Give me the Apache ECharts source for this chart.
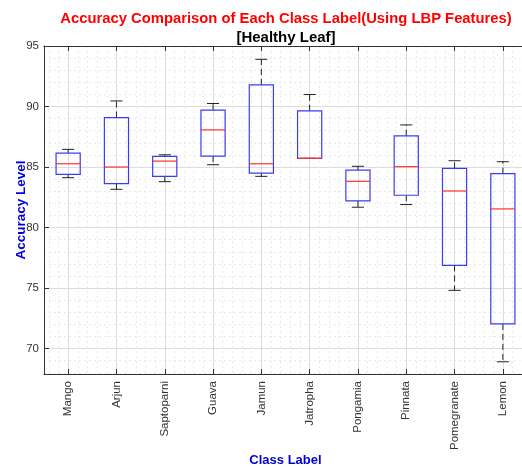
<!DOCTYPE html>
<html><head><meta charset="utf-8">
<script src="https://cdn.jsdelivr.net/npm/echarts@6/dist/echarts.min.js"></script>
<style>html,body{margin:0;padding:0;background:#fff}#c{width:522px;height:468px}</style>
</head><body><div id="c"></div>
<script>
const categories = ['Mango','Arjun','Saptoparni','Guava','Jamun','Jatropha','Pongamia','Pinnata','Pomegranate','Lemon'];
const lowerWhisker = [84.12, 83.16, 83.79, 85.19, 84.23, 85.72, 81.68, 81.90, 74.81, 68.91];
const q1Values     = [84.40, 83.63, 84.23, 85.90, 84.50, 85.72, 82.20, 82.67, 76.87, 72.04];
const medianValues = [85.27, 85.00, 85.49, 88.07, 85.27, 85.72, 83.82, 85.03, 83.02, 81.54];
const q3Values     = [86.15, 89.09, 85.88, 89.70, 91.78, 89.64, 84.75, 87.58, 84.89, 84.45];
const upperWhisker = [86.46, 90.46, 86.01, 90.25, 93.90, 90.99, 85.06, 88.48, 85.52, 85.44];
const yTicks = [70, 75, 80, 85, 90, 95];

const FONT = 'Liberation Sans, Arial, sans-serif';
const data = categories.map((c, i) => [i + 1, lowerWhisker[i], q1Values[i], medianValues[i], q3Values[i], upperWhisker[i]]);

function renderItem(params, api) {
  const x = api.value(0);
  const pLo = api.coord([x, api.value(1)]);
  const pQ1 = api.coord([x, api.value(2)]);
  const pMd = api.coord([x, api.value(3)]);
  const pQ3 = api.coord([x, api.value(4)]);
  const pHi = api.coord([x, api.value(5)]);
  const unit = api.size([1, 0])[0];
  const bw = unit * 0.5, cw = unit * 0.25;
  const cx = pMd[0];
  const dash = { stroke: '#222', lineWidth: 1, lineDash: [6, 4] };
  const solid = { stroke: '#222', lineWidth: 1 };
  return {
    type: 'group',
    children: [
      { type: 'line', shape: { x1: cx, y1: pQ3[1], x2: cx, y2: pHi[1] }, style: dash },
      { type: 'line', shape: { x1: cx, y1: pQ1[1], x2: cx, y2: pLo[1] }, style: dash },
      { type: 'line', shape: { x1: cx - cw / 2, y1: pHi[1], x2: cx + cw / 2, y2: pHi[1] }, style: solid },
      { type: 'line', shape: { x1: cx - cw / 2, y1: pLo[1], x2: cx + cw / 2, y2: pLo[1] }, style: solid },
      { type: 'rect', shape: { x: cx - bw / 2, y: pQ3[1], width: bw, height: pQ1[1] - pQ3[1] },
        style: { fill: 'none', stroke: '#3c3cf0', lineWidth: 1.2 } },
      { type: 'line', shape: { x1: cx - bw / 2, y1: pMd[1], x2: cx + bw / 2, y2: pMd[1] },
        style: { stroke: '#ff3030', lineWidth: 1.2 } }
    ]
  };
}

const near = (v, t) => Math.abs(v - t) < 1e-6;
const xAxisBase = {
  type: 'value', min: 0.5, max: 10.5, splitNumber: 10,
  axisLine: { show: true, onZero: false, lineStyle: { color: '#333', width: 1 } },
  axisTick: { show: true, inside: true, length: 5, lineStyle: { color: '#333' } },
  minorTick: { show: false, splitNumber: 5 },
  splitLine: { show: false }
};

const chart = echarts.init(document.getElementById('c'), null, { renderer: 'canvas' });
chart.setOption({
  backgroundColor: '#fff',
  animation: false,
  title: [
    { text: 'Accuracy Comparison of Each Class Label(Using LBP Features)', left: 281, top: 6, textAlign: 'center',
      textStyle: { color: '#ff0000', fontWeight: 'bold', fontSize: 14.8, fontFamily: FONT } },
    { text: '[Healthy Leaf]', left: 281, top: 25, textAlign: 'center',
      textStyle: { color: '#000', fontWeight: 'bold', fontSize: 15, fontFamily: FONT } }
  ],
  grid: { left: 44, right: -5, top: 46, bottom: 94, containLabel: false, outerBoundsMode: 'none' },
  xAxis: [
    Object.assign({}, xAxisBase, {
      position: 'bottom',
      name: 'Class Label', nameLocation: 'middle', nameGap: 80, nameMoveOverlap: false,
      nameTextStyle: { color: '#0000dd', fontWeight: 'bold', fontSize: 13, fontFamily: FONT },
      axisLabel: {
        rotate: 90, fontSize: 11.5, color: '#333', fontFamily: FONT, margin: 7,
        formatter: v => { const r = Math.round(v); return (near(v, r) && r >= 1 && r <= categories.length) ? categories[r - 1] : ''; }
      },
      splitLine: { show: true, lineStyle: { color: '#dcdcdc', width: 1 } },
      minorSplitLine: { show: true, lineStyle: { color: '#e9e9e9', type: [2, 3], width: 1 } }
    }),
    Object.assign({}, xAxisBase, { position: 'top', axisLabel: { show: false } })
  ],
  yAxis: {
    type: 'value', min: 67.9, max: 95, splitNumber: 5,
    name: 'Accuracy Level', nameLocation: 'middle', nameGap: 16, nameMoveOverlap: false,
    nameTextStyle: { color: '#0000dd', fontWeight: 'bold', fontSize: 13.5, fontFamily: FONT },
    axisLine: { show: true, onZero: false, lineStyle: { color: '#333', width: 1 } },
    axisTick: { show: true, inside: true, length: 5, lineStyle: { color: '#333' } },
    axisLabel: {
      fontSize: 11.5, color: '#333', fontFamily: FONT, margin: 5,
      formatter: v => (yTicks.some(t => near(v, t)) ? String(Math.round(v)) : '')
    },
    minorTick: { show: false, splitNumber: 5 },
    splitLine: { show: true, lineStyle: { color: '#dcdcdc', width: 1 } },
    minorSplitLine: { show: true, lineStyle: { color: '#e9e9e9', type: [2, 3], width: 1 } }
  },
  series: [{
    type: 'custom',
    renderItem: renderItem,
    data: data,
    encode: { x: 0, y: [1, 2, 3, 4, 5] },
    clip: false
  }]
});
</script>
</body></html>
